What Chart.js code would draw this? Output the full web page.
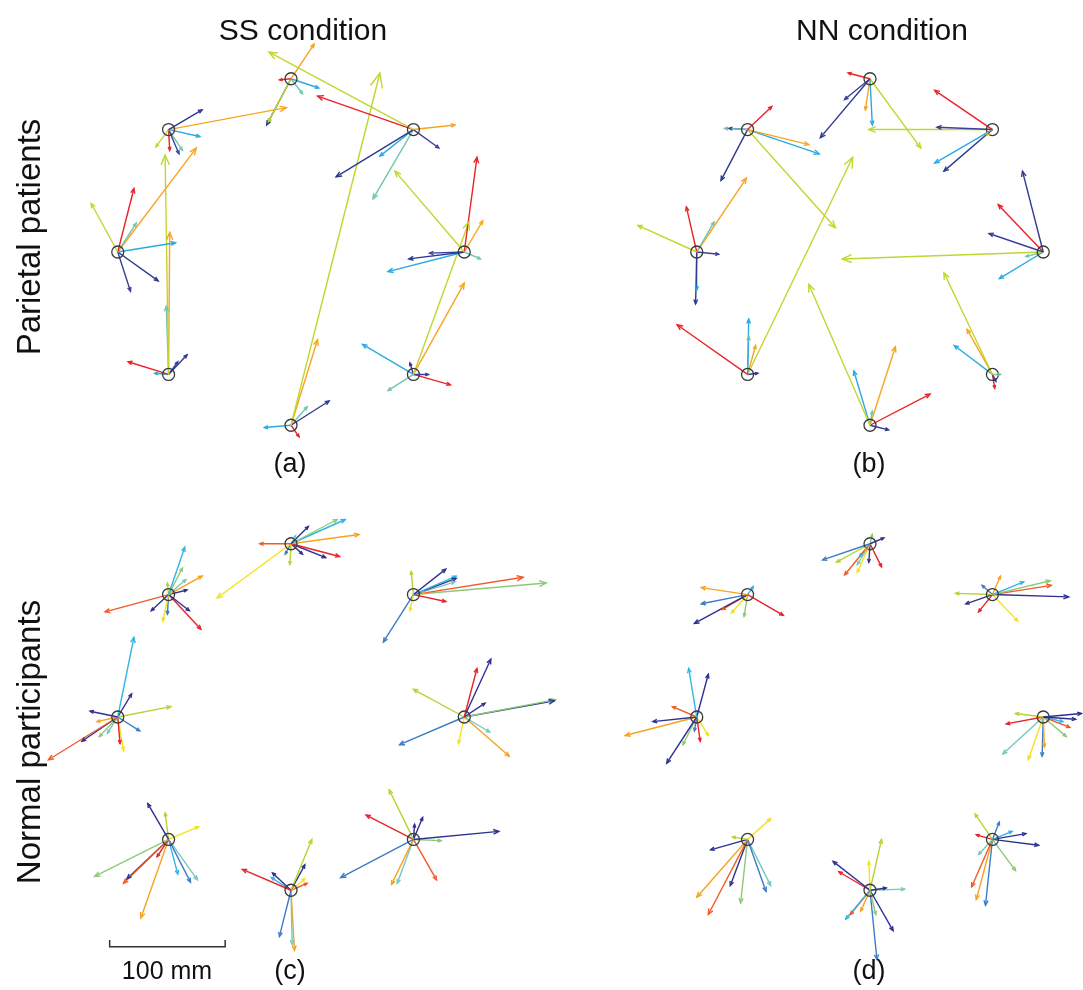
<!DOCTYPE html>
<html>
<head>
<meta charset="utf-8">
<script src="https://cdn.jsdelivr.net/npm/chart.js@4.4.1/dist/chart.umd.min.js"></script>
<style>
  body { margin: 0; width: 1083px; height: 990px; background: #fff; overflow: hidden; position: relative;
         font-family: "Liberation Sans", Arial, sans-serif; color: #111; }
  canvas { position: absolute; }
  .lbl { position: absolute; transform: translate(-50%, -50%); white-space: nowrap; font-size: 27px; }
  .ttl { font-size: 30px; }
  .side { position: absolute; transform: translate(-50%, -50%) rotate(-90deg); white-space: nowrap; font-size: 33px; }
</style>
</head>
<body>
<canvas id="panelA" width="580" height="500" style="left:1px;top:2px"></canvas>
<canvas id="panelB" width="580" height="500" style="left:580px;top:2px"></canvas>
<canvas id="panelC" width="580" height="500" style="left:1px;top:467px"></canvas>
<canvas id="panelD" width="580" height="500" style="left:580px;top:467px"></canvas>

<div class="lbl ttl" style="left:303px;top:30px">SS condition</div>
<div class="lbl ttl" style="left:882px;top:30px">NN condition</div>
<div class="side" style="left:29px;top:237px">Parietal patients</div>
<div class="side" style="left:29px;top:742px">Normal participants</div>
<div class="lbl" style="left:290px;top:463px">(a)</div>
<div class="lbl" style="left:869px;top:463px">(b)</div>
<div class="lbl" style="left:290px;top:970px">(c)</div>
<div class="lbl" style="left:869px;top:970px">(d)</div>
<div class="lbl" style="left:167px;top:970px;font-size:25px">100 mm</div>

<script>
// target centres (mm), 150 mm from the start point, 45 deg apart
const targetX = [150, 106, 0, -106, -150, -106, 0, 106];
const targetY = [0, 106, 150, 106, 0, -106, -150, -106];

// end point errors per target: [participant, dx mm, dy mm]
const ssPatients = [
  [[4,-60,70],[6,11,82],[5,16,27],[3,14,-6],[0,-48,-6],[1,-30,-1],[2,-66,-17]],
  [[4,-125,67],[6,-83,29],[5,36,4],[1,22,-16],[0,-67,-41],[2,-29,-23],[3,-35,-60]],
  [[5,20,30],[6,-10,-1],[2,24,-8],[3,10,-13],[4,-20,-38],[0,-21,-40]],
  [[0,29,17],[5,102,19],[2,27,-6],[4,-11,-15],[6,1,-18],[1,9,-21],[3,12,-18]],
  [[4,-23,42],[6,14,55],[3,16,25],[5,68,90],[2,50,8],[0,35,-25],[1,11,-34]],
  [[4,-3,190],[5,1,123],[3,-2,59],[6,-35,11],[0,16,17],[1,8,11],[2,-12,1]],
  [[4,77,305],[5,23,74],[0,33,21],[3,14,16],[2,-23,-2],[6,7,-10]],
  [[4,48,132],[5,44,79],[2,-44,26],[0,-3,10],[1,13,0],[6,32,-9],[3,-22,-14]]
];
const nnPatients = [
  [[0,-18,70],[6,-39,41],[1,-47,16],[4,-174,-6],[3,-15,-4],[2,-38,-23]],
  [[6,-50,34],[1,-48,2],[4,-107,0],[2,-50,-29],[0,-42,-36],[5,-5,-5]],
  [[6,-19,5],[1,-22,-18],[0,-43,-51],[5,-4,-27],[2,2,-40],[4,44,-60]],
  [[6,21,20],[3,-20,1],[1,-16,1],[5,53,-13],[2,62,-21],[0,-23,-44],[4,76,-85]],
  [[4,-51,23],[6,-9,39],[3,15,26],[5,43,64],[1,19,-2],[0,-1,-45],[2,0,-33]],
  [[6,-61,43],[2,1,48],[3,1,33],[5,7,25],[4,91,188],[0,9,1]],
  [[4,-53,122],[2,-14,47],[5,22,68],[6,52,27],[3,2,12],[0,16,-4]],
  [[4,-42,88],[5,-22,39],[2,-33,25],[3,7,0],[0,3,-6],[6,2,-12]]
];
const ssNormals = [
  [[9,11,42],[0,23,50],[0,18,12],[4,79,15],[0,78,14],[5,-44,24],[1,-56,-24],[6,-5,-23],[3,22,-13],[7,39,-34]],
  [[5,-2,20],[0,28,22],[2,37,16],[0,37,14],[3,36,11],[8,95,15],[4,115,10],[9,28,-6],[6,-3,-14],[1,-26,-41],[7,10,2]],
  [[8,-27,0],[6,-64,-47],[0,15,15],[4,40,21],[2,47,21],[7,59,8],[9,42,-11],[0,30,-12],[0,10,-9],[5,-1,-18],[1,-5,-9],[3,4,7]],
  [[2,14,41],[4,12,23],[3,15,13],[7,29,16],[0,16,4],[8,-55,-15],[0,-15,-14],[6,-5,-23],[1,-1,-17],[0,18,-14],[9,28,-30],[5,-1,10]],
  [[2,14,69],[0,12,20],[0,-24,5],[5,46,9],[7,-18,-4],[1,19,-12],[8,-60,-37],[0,-31,-21],[4,-16,-17],[3,-9,-14],[9,2,-23],[6,5,-29]],
  [[0,-18,31],[5,-3,23],[6,26,11],[4,-64,-32],[8,-39,-38],[0,-36,-34],[9,-10,-15],[7,-24,-68],[2,8,-30],[1,19,-37],[3,25,-35]],
  [[9,-42,18],[0,-16,15],[2,-17,11],[5,18,44],[0,12,22],[6,12,10],[8,14,6],[1,-10,-40],[3,1,-47],[7,3,-52]],
  [[5,-21,43],[9,-41,21],[0,1,13],[0,8,19],[0,74,7],[4,24,-1],[1,-63,-33],[7,-19,-39],[3,-14,-38],[8,20,-35]]
];
const nnNormals = [
  [[5,-24,3],[9,-32,-6],[0,33,3],[0,28,-2],[2,17,-4],[8,23,-9],[4,20,-17],[7,1,-26],[1,-1,-34],[6,-13,-37],[3,-35,-32]],
  [[5,-32,1],[0,-23,-8],[9,-12,-15],[1,-9,8],[7,7,16],[2,27,11],[4,50,12],[8,51,8],[0,66,-2],[6,22,-23]],
  [[0,12,5],[4,2,8],[1,-41,-14],[5,-29,-16],[8,-22,-27],[3,-11,-18],[6,-11,-25],[0,-1,-16],[9,10,-20],[7,-4,-6],[2,-9,-11]],
  [[7,-40,6],[1,-40,-8],[0,-46,-25],[8,-22,-13],[6,-14,-16],[4,-3,-19],[9,31,-18],[2,5,7]],
  [[2,-7,42],[0,10,37],[8,-21,9],[0,-38,-4],[7,-62,-16],[0,-26,-40],[4,-12,-24],[9,3,-21],[6,10,-16],[1,-2,-12]],
  [[6,20,18],[5,-13,2],[0,-32,-9],[7,-44,-50],[8,-34,-65],[0,-15,-40],[4,-6,-55],[1,16,-45],[3,20,-40]],
  [[5,10,44],[6,-1,25],[0,-32,25],[9,-27,16],[0,14,2],[3,30,1],[4,5,-21],[0,20,-35],[1,6,-60],[2,-21,-25],[8,-17,-21],[7,-8,-18]],
  [[5,-15,22],[1,6,15],[9,-14,4],[2,17,7],[0,29,5],[0,40,-5],[4,20,-27],[3,-12,-13],[8,-18,-41],[7,-14,-52],[1,-6,-57]]
];

// 100 mm scale bar (mm, panel c frame)
const scaleBarX = [-157, -157, -57, -57];
const scaleBarY = [-193, -199, -199, -193];

const patientColours = ['#2e3a90', '#3b409a', '#2aaae2', '#72c6ae', '#c3d52f', '#f7a521', '#ec2227'];
const normalColours = ['#2e3192', '#3d7cc4', '#31b5e7', '#74c9c1', '#8dc97a', '#b6d334', '#f3e21e', '#f8a21f', '#f15a29', '#e8232a'];

const PX_PER_MM = 1.155;

// arrow heads at the end of each two-point line
const arrowHeads = {
  id: 'arrowHeads',
  afterDatasetsDraw(chart) {
    const ctx = chart.ctx;
    chart.data.datasets.forEach((ds, i) => {
      if (!ds.arrow) return;
      const pts = chart.getDatasetMeta(i).data;
      const a = pts[0], b = pts[1];
      const len = Math.hypot(b.x - a.x, b.y - a.y);
      const h = 3 + 0.035 * len;
      const ang = Math.atan2(b.y - a.y, b.x - a.x);
      ctx.save();
      ctx.strokeStyle = ds.borderColor;
      ctx.lineWidth = ds.borderWidth;
      ctx.beginPath();
      ctx.moveTo(b.x - h * Math.cos(ang - 0.4), b.y - h * Math.sin(ang - 0.4));
      ctx.lineTo(b.x, b.y);
      ctx.lineTo(b.x - h * Math.cos(ang + 0.4), b.y - h * Math.sin(ang + 0.4));
      ctx.stroke();
      ctx.restore();
    });
  }
};

function buildPanel(id, arrows, colours, withScale) {
  const canvas = document.getElementById(id);
  const datasets = [{
    data: targetX.map((x, i) => ({ x: x, y: targetY[i] })),
    showLine: false,
    pointRadius: 6,
    pointBorderWidth: 1.3,
    pointBorderColor: '#3a3a3a',
    pointBackgroundColor: 'rgba(0,0,0,0)'
  }];
  arrows.forEach((list, t) => {
    list.forEach(([p, dx, dy]) => {
      datasets.push({
        data: [{ x: targetX[t], y: targetY[t] }, { x: targetX[t] + dx, y: targetY[t] + dy }],
        borderColor: colours[p],
        borderWidth: 1.4,
        pointRadius: 0,
        arrow: true
      });
    });
  });
  if (withScale) {
    datasets.push({
      data: scaleBarX.map((x, i) => ({ x: x, y: scaleBarY[i] })),
      borderColor: '#333',
      borderWidth: 1.5,
      pointRadius: 0
    });
  }
  const chart = new Chart(canvas.getContext('2d'), {
    type: 'line',
    data: { datasets: datasets },
    options: {
      responsive: false,
      animation: false,
      events: [],
      layout: { padding: 0 },
      scales: {
        x: { type: 'linear', min: -200, max: 200, display: false },
        y: { type: 'linear', min: -200, max: 200, display: false }
      },
      plugins: { legend: { display: false }, tooltip: { enabled: false } }
    },
    plugins: [arrowHeads]
  });
  // keep 1.155 px per mm whatever padding the line controller reserves
  const area = chart.chartArea;
  const halfW = (area.right - area.left) / 2 / PX_PER_MM;
  const halfH = (area.bottom - area.top) / 2 / PX_PER_MM;
  chart.options.scales.x.min = -halfW;
  chart.options.scales.x.max = halfW;
  chart.options.scales.y.min = -halfH;
  chart.options.scales.y.max = halfH;
  chart.update();
}

buildPanel('panelA', ssPatients, patientColours, false);
buildPanel('panelB', nnPatients, patientColours, false);
buildPanel('panelC', ssNormals, normalColours, true);
buildPanel('panelD', nnNormals, normalColours, false);
</script>
</body>
</html>
